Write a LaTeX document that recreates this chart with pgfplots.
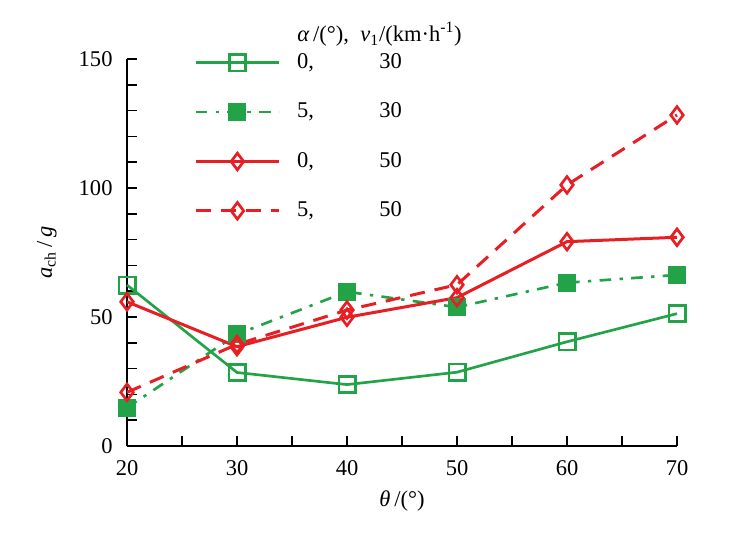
\documentclass[border=0pt]{standalone}
\usepackage{fontspec}
\setmainfont{Liberation Serif}
\usepackage{pgfplots}
\pgfplotsset{compat=1.18}
\definecolor{cg}{RGB}{35,163,72}
\definecolor{cr}{RGB}{232,30,35}
\begin{document}
\fontsize{13.5pt}{16pt}\selectfont
\begin{tikzpicture}
\begin{axis}[
  scale only axis,
  width=330pt, height=232.2pt,
  xmin=20, xmax=70, ymin=0, ymax=150,
  axis lines=left,
  axis line style={line width=1pt,-},
  tick style={line width=1pt,black},
  tick align=inside,
  major tick length=6pt, minor tick length=6pt,
  xtick={20,30,...,70}, minor xtick={25,35,...,65},
  ytick={0,50,100,150}, minor ytick={10,20,30,40,60,70,80,90,110,120,130,140},
  /pgf/number format/assume math mode=true,
  ticklabel style={font=\fontsize{13.5pt}{16pt}\selectfont},
  xticklabel style={yshift=-4pt},
  yticklabel style={xshift=-4pt},
  clip=false,
  xlabel={\textit{θ}\,/(°)},
  ylabel={\textit{a}\textsubscript{ch}\,/\,\textit{g}},
  label style={font=\fontsize{13.5pt}{16pt}\selectfont},
  xlabel style={yshift=0pt},
  ylabel style={yshift=4pt},
  legend cell align=left,
  legend style={draw=none, fill=none, at={(0.1125,1.032)}, anchor=north west,
    row sep=14.6pt, font=\fontsize{13.5pt}{16pt}\selectfont,
    /tikz/every even column/.append style={column sep=4pt},
    /tikz/every odd column/.append style={column sep=8pt}},
  legend image code/.code={\draw[#1,mark repeat=2,mark phase=2] plot coordinates {(0pt,0pt) (25pt,0pt) (50pt,0pt)};},
]
\addplot[cg, line width=1.6pt, mark=square, mark size=4.9pt, mark options={solid,line width=1.6pt}]
  coordinates {(20,62.4) (30,28.5) (40,23.8) (50,28.6) (60,40.4) (70,51.3)};
\addlegendentry{0,\hspace{2.9em}30}
\addplot[cg, line width=1.6pt, dash pattern=on 7pt off 5pt on 2pt off 5pt, mark=square*, mark size=4.8pt, mark options={solid,line width=1.2pt,fill=cg}]
  coordinates {(20,14.8) (30,43.3) (40,59.8) (50,53.8) (60,63.3) (70,66.3)};
\addlegendentry{5,\hspace{2.9em}30}
\addplot[cr, line width=1.8pt, mark=diamond, mark size=5pt, mark options={solid,line width=1.6pt}]
  coordinates {(20,55.9) (30,38.5) (40,49.9) (50,57.5) (60,79.2) (70,80.9)};
\addlegendentry{0,\hspace{2.9em}50}
\addplot[cr, line width=1.8pt, dash pattern=on 9pt off 6pt, mark=diamond, mark size=5pt, mark options={solid,line width=1.6pt}]
  coordinates {(20,20.8) (30,39.4) (40,52.7) (50,62.5) (60,101.2) (70,128.3)};
\addlegendentry{5,\hspace{2.9em}50}
\node[anchor=base west, inner sep=0pt] at (rel axis cs:0.309,1.045) {\textit{α}\,/(°),\enspace\textit{v}\textsubscript{1}/(km·h\textsuperscript{-1})};
\end{axis}
\path (current axis.south west) ++(-76.2pt,-54pt) coordinate (bl);
\path (current axis.north east) ++(37.2pt,35.4pt) coordinate (tr);
\path (bl) rectangle (tr);
\end{tikzpicture}
\end{document}
